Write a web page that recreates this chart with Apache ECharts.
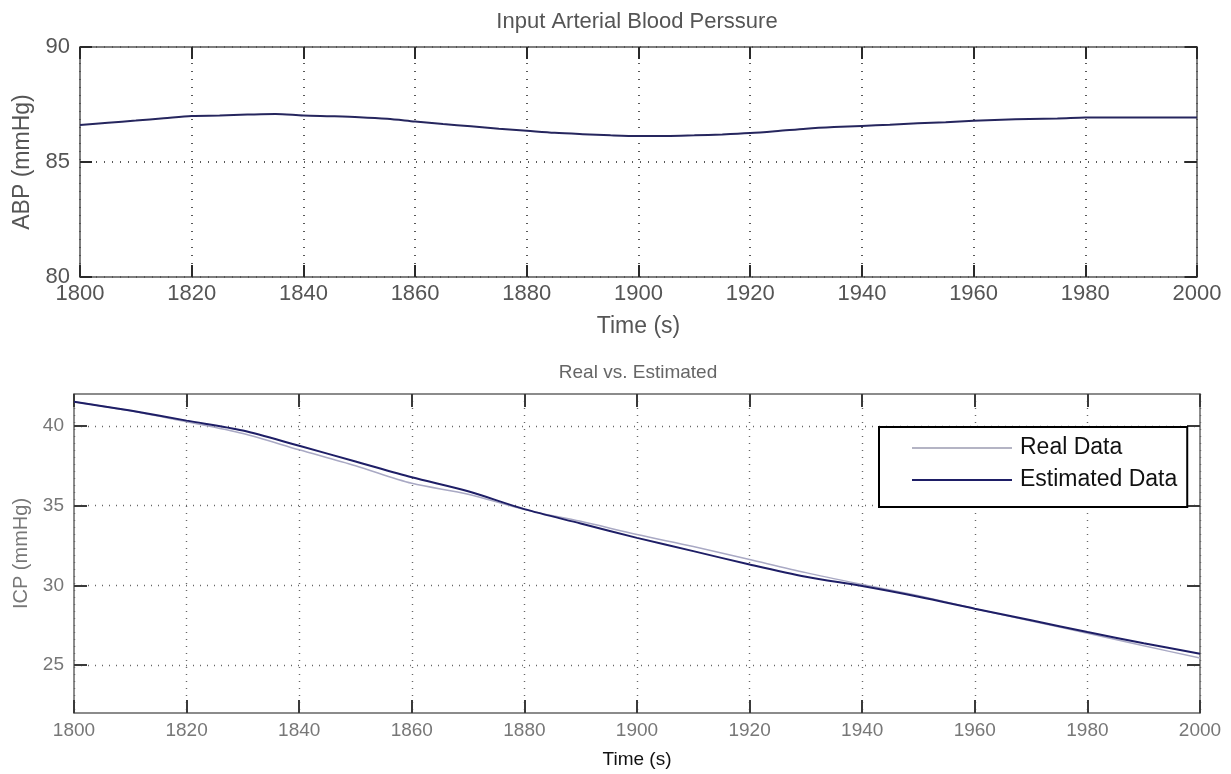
<!DOCTYPE html>
<html>
<head>
<meta charset="utf-8">
<script src="https://cdn.jsdelivr.net/npm/echarts@6/dist/echarts.min.js"></script>
<style>
html,body{margin:0;padding:0;background:#fff;}
#c{width:1231px;height:774px;}
</style>
</head>
<body>
<div id="c"></div>
<script>
// ---- data ----
const abpTime = [1800,1805,1810,1815,1820,1825,1830,1835,1840,1845,1850,1855,1860,1865,1870,1875,1880,1885,1890,1895,1900,1905,1910,1915,1920,1925,1930,1935,1940,1945,1950,1955,1960,1965,1970,1975,1980,1985,1990,1995,2000];
const abpValues = [86.61,86.71,86.80,86.90,87.00,87.02,87.06,87.09,87.02,86.99,86.95,86.88,86.76,86.65,86.55,86.45,86.36,86.27,86.21,86.16,86.13,86.13,86.16,86.20,86.26,86.35,86.45,86.52,86.57,86.62,86.68,86.73,86.79,86.84,86.87,86.89,86.93,86.94,86.94,86.94,86.94];

const icpTime = [1800,1810,1820,1830,1840,1850,1860,1870,1880,1890,1900,1910,1920,1930,1940,1950,1960,1970,1980,1990,2000];
const realData = [41.52,40.95,40.26,39.52,38.50,37.50,36.40,35.72,34.75,34.02,33.19,32.44,31.62,30.80,30.06,29.35,28.54,27.77,27.00,26.21,25.45];
const estimatedData = [41.52,40.96,40.33,39.71,38.75,37.77,36.78,35.90,34.78,33.88,32.98,32.15,31.31,30.54,29.96,29.29,28.54,27.81,27.08,26.37,25.72];

const xTicksInterval = 20;
const abpYTicks = [80,85,90];
const icpYTicks = [25,30,35,40];

const legendNames = ['Real Data','Estimated Data'];
// ---- chart ----
const chart = echarts.init(document.getElementById('c'), null, {renderer:'canvas'});
const FONT = 'Liberation Sans, Arial, sans-serif';
const plain = v => String(v);
const TICK_TOP = {color:'#2a2a2a', width:2};
const TICK_BOT = {color:'#3a3a3a', width:2};

function xAxisBase(grid, opts){
  return Object.assign({
    type:'value', gridIndex:grid, min:1800, max:2000, interval:xTicksInterval,
  }, opts);
}

const option = {
  animation:false,
  backgroundColor:'#fff',
  title:[
    {text:'Input Arterial Blood Perssure', left:632, top:6, textAlign:'center',
     textStyle:{fontFamily:FONT, fontSize:22, fontWeight:'normal', color:'#555'}},
    {text:'Real vs. Estimated', left:633, top:358, textAlign:'center',
     textStyle:{fontFamily:FONT, fontSize:19, fontWeight:'normal', color:'#666'}}
  ],
  grid:[
    {left:80, right:34, top:47, height:230},
    {left:74, right:31, top:394, height:319}
  ],
  legend:{
    data:legendNames.map(n=>({name:n, icon:'rect'})), orient:'vertical', left:879, top:427,
    padding:[9,10,15,33], itemWidth:100, itemHeight:2, itemGap:8,
    backgroundColor:'#fff', borderColor:'#000', borderWidth:2, borderRadius:0,
    textStyle:{fontFamily:FONT, fontSize:23, color:'#111', lineHeight:24, padding:[0,0,0,3]}
  },
  xAxis:[
    xAxisBase(0,{
      position:'bottom', name:'Time (s)', nameLocation:'middle', nameGap:38,
      nameTextStyle:{fontFamily:FONT, fontSize:23, color:'#555'},
      axisLine:{show:true, lineStyle:{color:'#555', width:1.5}},
      axisTick:{show:true, inside:true, length:12, lineStyle:TICK_TOP},
      axisLabel:{fontFamily:FONT, fontSize:22, color:'#555', margin:6, formatter:plain},
      splitLine:{show:true, lineStyle:{color:'#222', type:[1,7], width:1.5}}
    }),
    xAxisBase(1,{
      position:'bottom', name:'Time (s)', nameLocation:'middle', nameGap:37,
      nameTextStyle:{fontFamily:FONT, fontSize:19, color:'#111'},
      axisLine:{show:true, lineStyle:{color:'#666', width:1.5}},
      axisTick:{show:true, inside:true, length:13, lineStyle:TICK_BOT},
      axisLabel:{fontFamily:FONT, fontSize:19, color:'#777', margin:8, formatter:plain},
      splitLine:{show:true, lineStyle:{color:'#666', type:[1,6], width:1.4}}
    }),
    xAxisBase(0,{
      position:'top', axisLabel:{show:false}, splitLine:{show:false},
      axisLine:{show:true, lineStyle:{color:'#555', width:1.5}},
      axisTick:{show:true, inside:true, length:12, lineStyle:TICK_TOP}
    }),
    xAxisBase(1,{
      position:'top', axisLabel:{show:false}, splitLine:{show:false},
      axisLine:{show:true, lineStyle:{color:'#666', width:1.5}},
      axisTick:{show:true, inside:true, length:13, lineStyle:TICK_BOT}
    })
  ],
  yAxis:[
    {type:'value', gridIndex:0, min:80, max:90, interval:5, position:'left',
     name:'ABP (mmHg)', nameLocation:'middle', nameGap:46,
     nameTextStyle:{fontFamily:FONT, fontSize:23, color:'#555'},
     axisLine:{show:true, lineStyle:{color:'#555', width:1.5}},
     axisTick:{show:true, inside:true, length:12, lineStyle:TICK_TOP},
     axisLabel:{fontFamily:FONT, fontSize:22, color:'#555', margin:10, formatter:plain},
     splitLine:{show:true, lineStyle:{color:'#222', type:[1,7], width:1.5}}},
    {type:'value', gridIndex:1, min:22, max:42, position:'left',
     name:'ICP (mmHg)', nameLocation:'middle', nameGap:42,
     nameTextStyle:{fontFamily:FONT, fontSize:20, color:'#777'},
     axisLine:{show:true, lineStyle:{color:'#666', width:1.5}},
     axisTick:{show:true, inside:true, length:13, customValues:icpYTicks, lineStyle:TICK_BOT},
     axisLabel:{fontFamily:FONT, fontSize:19, color:'#777', margin:10, customValues:icpYTicks, formatter:plain},
     splitLine:{show:true, customValues:icpYTicks, lineStyle:{color:'#666', type:[1,6], width:1.4}}},
    {type:'value', gridIndex:0, min:80, max:90, interval:5, position:'right',
     axisLine:{show:true, lineStyle:{color:'#555', width:1.5}},
     axisTick:{show:true, inside:true, length:12, lineStyle:TICK_TOP},
     axisLabel:{show:false}, splitLine:{show:false}},
    {type:'value', gridIndex:1, min:22, max:42, position:'right',
     axisLine:{show:true, lineStyle:{color:'#666', width:1.5}},
     axisTick:{show:true, inside:true, length:13, customValues:icpYTicks, lineStyle:TICK_BOT},
     axisLabel:{show:false, customValues:icpYTicks}, splitLine:{show:false}}
  ],
  series:[
    {type:'line', name:'ABP', xAxisIndex:0, yAxisIndex:0, symbol:'none', smooth:0.3,
     data:abpTime.map((t,i)=>[t,abpValues[i]]),
     lineStyle:{color:'#26265e', width:2}, itemStyle:{color:'#26265e'}},
    {type:'line', name:legendNames[0], xAxisIndex:1, yAxisIndex:1, symbol:'none', smooth:0.3,
     data:icpTime.map((t,i)=>[t,realData[i]]),
     lineStyle:{color:'#a9a9c4', width:1.5}, itemStyle:{color:'#b4b4c4'}},
    {type:'line', name:legendNames[1], xAxisIndex:1, yAxisIndex:1, symbol:'none', smooth:0.3,
     data:icpTime.map((t,i)=>[t,estimatedData[i]]),
     lineStyle:{color:'#1e1e66', width:2}, itemStyle:{color:'#1e1e66'}}
  ]
};
chart.setOption(option);
</script>
</body>
</html>
